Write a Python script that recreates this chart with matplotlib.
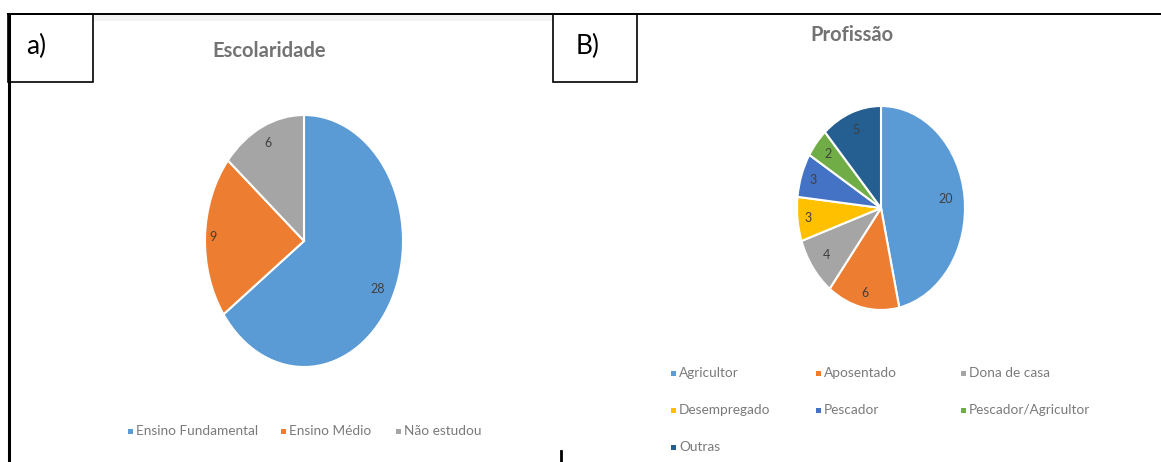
import numpy as np
import matplotlib.pyplot as plt
from matplotlib.patches import Rectangle

# escolaridade
esc_labels = ["Ensino Fundamental", "Ensino Médio", "Não estudou"]
esc_values = [28, 9, 6]
esc_colors = ["#5B9BD5", "#ED7D31", "#A5A5A5"]

# profissao
prof_labels = ["Agricultor", "Aposentado", "Dona de casa", "Desempregado",
               "Pescador", "Pescador/Agricultor", "Outras"]
prof_values = [20, 6, 4, 3, 3, 2, 5]
prof_colors = ["#5B9BD5", "#ED7D31", "#A5A5A5", "#FFC000",
               "#4472C4", "#70AD47", "#255E91"]

W, H = 1161, 462
fig = plt.figure(figsize=(W / 100, H / 100), dpi=100)
plt.rcParams['font.family'] = ['Lato', 'DejaVu Sans']

def px_axes(x0, y0, x1, y1):
    # pixel box (top-left origin) -> figure axes
    return fig.add_axes([x0 / W, 1 - y1 / H, (x1 - x0) / W, (y1 - y0) / H])

# overlay for frame, boxes, titles and legends
bg = fig.add_axes([0, 0, 1, 1])
bg.set_xlim(0, W)
bg.set_ylim(H, 0)
bg.axis("off")

bg.add_patch(Rectangle((93, 15), 460, 6, color="#f3f3f3", lw=0, zorder=0))
bg.plot([8, W], [14, 14], color="black", lw=1.4)
bg.plot([9, 9], [14, H], color="black", lw=2.2)
bg.add_patch(Rectangle((8, 14), 85, 68, fill=False, ec="black", lw=1.2))
bg.add_patch(Rectangle((553, 14), 84, 68, fill=False, ec="black", lw=1.2))
bg.plot([561, 561], [451, H], color="black", lw=2)
bg.text(26, 46, "a)", fontsize=19, va="center", ha="left", color="black")
bg.text(576, 46, "B)", fontsize=19, va="center", ha="left", color="black")

bg.text(269, 51, "Escolaridade", fontsize=14.5, fontweight="bold",
        color="#737373", ha="center", va="center")
bg.text(852, 35, "Profissão", fontsize=14.5, fontweight="bold",
        color="#737373", ha="center", va="center")


def draw_pie(box, values, colors, dists):
    ax = px_axes(*box)
    wedges, _ = ax.pie(values, colors=colors, startangle=90, counterclock=False,
                       wedgeprops=dict(edgecolor="white", linewidth=1.5))
    ax.set_aspect("auto")
    ax.set_xlim(-1, 1)
    ax.set_ylim(-1, 1)
    total = sum(values)
    start = 90.0
    for v, d in zip(values, dists):
        span = 360.0 * v / total
        mid = np.deg2rad(start - span / 2)
        ax.text(d * np.cos(mid), d * np.sin(mid), str(v), fontsize=9,
                color="#404040", ha="center", va="center")
        start -= span
    return wedges


draw_pie((205, 115, 403, 367), esc_values, esc_colors, [0.84, 0.92, 0.86])
draw_pie((797, 106, 965, 310), prof_values, prof_colors,
         [0.78, 0.85, 0.8, 0.87, 0.86, 0.82, 0.82])


def legend_item(x, y, label, color):
    bg.add_patch(Rectangle((x - 2.5, y - 2.5), 5, 5, color=color, lw=0))
    bg.text(x + 6, y, label, fontsize=9.8, color="#7a7a7a", ha="left",
            va="center")


esc_pos = [(130, 431), (283, 431), (398, 431)]
for (x, y), lab, col in zip(esc_pos, esc_labels, esc_colors):
    legend_item(x, y, lab, col)

prof_pos = [(673, 373), (818, 373), (963, 373),
            (673, 410), (818, 410), (963, 410),
            (673, 447)]
for (x, y), lab, col in zip(prof_pos, prof_labels, prof_colors):
    legend_item(x, y, lab, col)

fig.savefig("out.png", dpi=100)
